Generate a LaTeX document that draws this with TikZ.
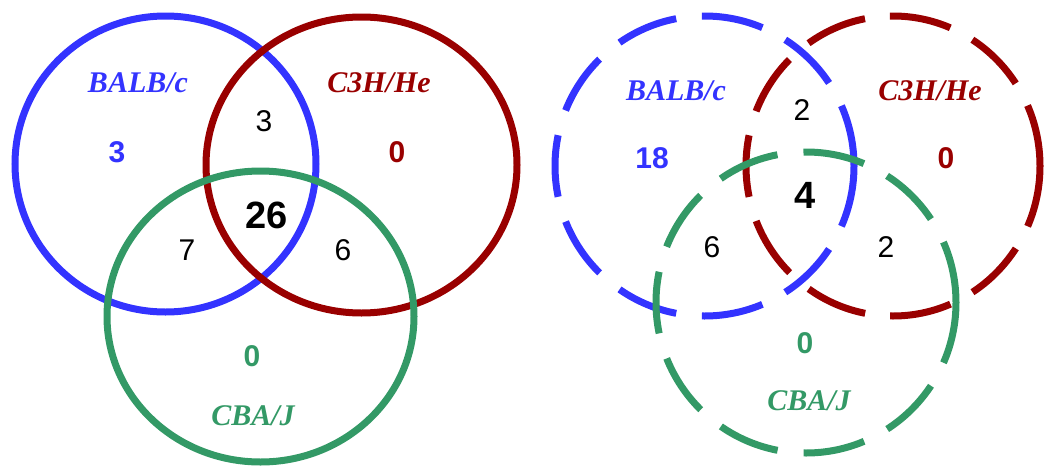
\documentclass[tikz,border=0pt]{standalone}
\usepackage{fontspec}
\setmainfont{Liberation Serif}
\newfontfamily\arialfont{Liberation Sans}
\definecolor{strainblue}{RGB}{51,51,255}
\definecolor{strainred}{RGB}{153,0,0}
\definecolor{straingreen}{RGB}{51,153,102}
\tikzset{
  ring/.style={line width=7pt},
  strain/.style={anchor=base, inner sep=0pt, font=\fontsize{30}{30}\selectfont\bfseries\itshape},
  own/.style={anchor=base, inner sep=0pt, font=\fontsize{30}{30}\selectfont\arialfont\bfseries},
  shared/.style={anchor=base, inner sep=0pt, font=\fontsize{30}{30}\selectfont\arialfont},
  core/.style={anchor=base, inner sep=0pt, font=\fontsize{38}{38}\selectfont\arialfont\bfseries},
}
\begin{document}
\begin{tikzpicture}[x=1pt,y=-1pt]
\useasboundingbox (0,0) rectangle (1045,469);

% ---- left panel: solid rings ----
\draw[ring, strainblue]  (165.5,164) ellipse [x radius=150.5, y radius=148];
\draw[ring, strainred]   (361.5,165) ellipse [x radius=155.5, y radius=148];
\draw[ring, straingreen] (260.5,316.5) ellipse [x radius=153.5, y radius=145.5];

\node[strain, text=strainblue]  (la) at (138,92)  {BALB/c};
\node[strain, text=strainred]   (lb) at (379,92)  {C3H/He};
\node[strain, text=straingreen] (lc) at (253,425) {CBA/J};

\node[own, text=strainblue]  (la1) at (117,162) {3};
\node[own, text=strainred]   (lb1) at (397,162) {0};
\node[own, text=straingreen] (lc1) at (252,366) {0};
\node[shared] (lab) at (264,131) {3};
\node[shared] (lac) at (187,260) {7};
\node[shared] (lbc) at (343,260) {6};
\node[core]   (labc) at (267,228) {26};

% ---- right panel: dashed rings ----
\draw[ring, strainblue,  dash pattern=on 62pt off 25.9pt] (704.5,166) ellipse [x radius=149.5, y radius=150];
\draw[ring, strainred,   dash pattern=on 62pt off 25.1pt] (893,166) ellipse [x radius=147, y radius=150];
\draw[ring, straingreen, dash pattern=on 62pt off 26.2pt] (806,302.5) ellipse [x radius=150, y radius=150.5];

\node[strain, text=strainblue]  (ra) at (676,100) {BALB/c};
\node[strain, text=strainred]   (rb) at (930,100) {C3H/He};
\node[strain, text=straingreen] (rc) at (809,410) {CBA/J};

\node[own, text=strainblue]  (ra1) at (652,168) {18};
\node[own, text=strainred]   (rb1) at (946,168) {0};
\node[own, text=straingreen] (rc1) at (805,353) {0};
\node[shared] (rab) at (802,120) {2};
\node[shared] (rac) at (712,257) {6};
\node[shared] (rbc) at (886,257) {2};
\node[core]   (rabc) at (805,208) {4};
\end{tikzpicture}
\end{document}
